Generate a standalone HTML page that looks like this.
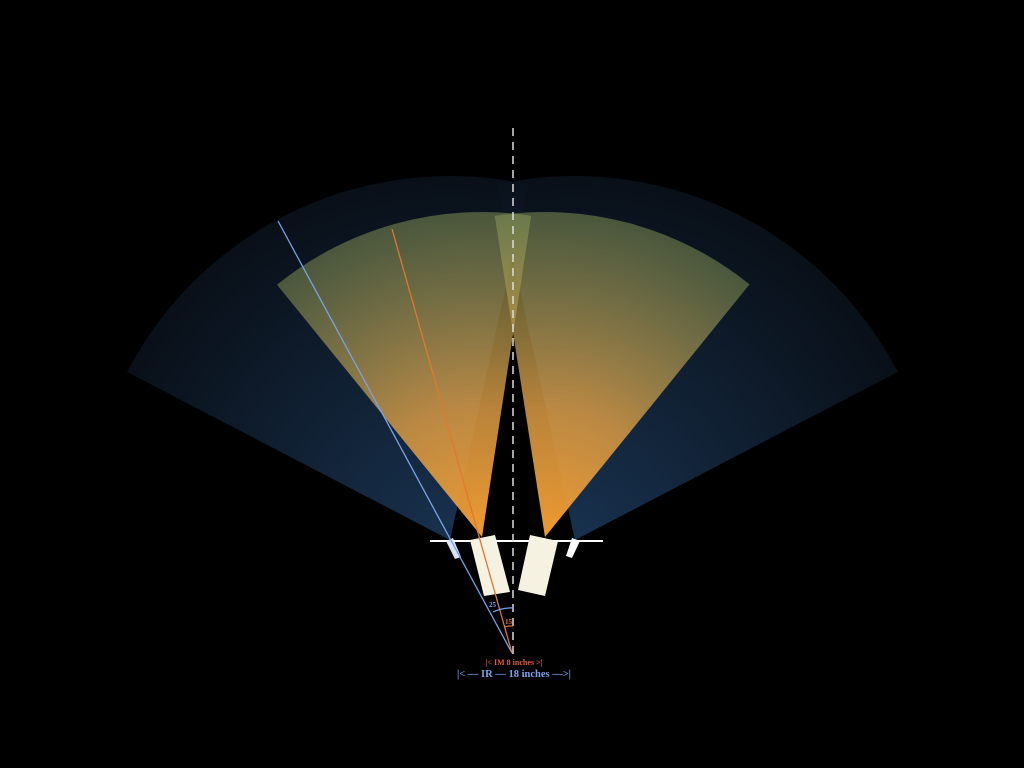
<!DOCTYPE html>
<html><head><meta charset="utf-8"><style>
html,body{margin:0;padding:0;background:#000;width:1024px;height:768px;overflow:hidden}
svg{display:block}
text{font-family:"Liberation Serif",serif;font-weight:bold}
</style></head><body>
<svg width="1024" height="768" viewBox="0 0 1024 768">
<defs>
<radialGradient id="gbL" cx="450" cy="540" r="364" gradientUnits="userSpaceOnUse">
<stop offset="0" stop-color="#1c3a5c"/><stop offset="1" stop-color="#0a121c"/></radialGradient>
<radialGradient id="gbR" cx="575" cy="540" r="364" gradientUnits="userSpaceOnUse">
<stop offset="0" stop-color="#1c3a5c"/><stop offset="1" stop-color="#0a121c"/></radialGradient>
<radialGradient id="goL" cx="482" cy="537" r="325" gradientUnits="userSpaceOnUse">
<stop offset="0" stop-color="#f09a30" stop-opacity="1"/><stop offset="0.4" stop-color="#d89a45" stop-opacity="0.85"/><stop offset="1" stop-color="#8a9a5a" stop-opacity="0.5"/></radialGradient>
<radialGradient id="goR" cx="545" cy="537" r="325" gradientUnits="userSpaceOnUse">
<stop offset="0" stop-color="#f09a30" stop-opacity="1"/><stop offset="0.4" stop-color="#d89a45" stop-opacity="0.85"/><stop offset="1" stop-color="#8a9a5a" stop-opacity="0.5"/></radialGradient>
</defs>
<g id="fov"></g>
<line x1="430" y1="541" x2="603" y2="541" stroke="#fff" stroke-width="2"/>
<polygon points="470,540 495,535 510,592 484,596" fill="#f5f2e2"/>
<polygon points="530,535 558,541 545,596 518,590" fill="#f5f2e2"/>
<polygon points="446,541 453,538 461,557 455,559" fill="#dde4f5"/>
<polygon points="572,538 580,541 572,558 566,556" fill="#fff"/>
<line x1="513" y1="128" x2="513" y2="655" stroke="#ddd" stroke-width="1.5" stroke-dasharray="8,6"/>
<line x1="512" y1="653" x2="278" y2="221" stroke="#7aa0e8" stroke-width="1.3"/>
<line x1="512" y1="653" x2="392" y2="229" stroke="#e07830" stroke-width="1.3"/>
<path d="M493,612 A43,43 0 0 1 514,608" fill="none" stroke="#7aa0e8" stroke-width="1.2"/>
<path d="M504,627 A26,26 0 0 1 513,626" fill="none" stroke="#e07830" stroke-width="1.2"/>
<text x="489" y="607" font-size="7" fill="#7aa0e8">25</text>
<text x="505" y="624" font-size="7" fill="#e07830">15</text>
<text x="514" y="665" font-size="8" fill="#e05a3a" text-anchor="middle">|&lt; IM 8 inches &gt;|</text>
<text x="514" y="677" font-size="10.5" fill="#7aa0e8" text-anchor="middle">|&lt; — IR — 18 inches —&gt;|</text>
</svg>
<script>
const sensors = ['ir-left','ir-right','us-left','us-right'];
const apexX = [450,575,482,545];
const apexY = [540,540,537,537];
const radius = [364,364,325,325];
const startDeg = [152.5,102.4,129.1,98.9];
const endDeg = [77.6,27.5,81.3,51.0];
const fills = ['url(#gbL)','url(#gbR)','url(#goL)','url(#goR)'];
const g = document.getElementById('fov');
const ns = 'http://www.w3.org/2000/svg';
function pt(i,a){const r=a*Math.PI/180;return [apexX[i]+radius[i]*Math.cos(r),apexY[i]-radius[i]*Math.sin(r)];}
for(let i=0;i<sensors.length;i++){
  const a0=startDeg[i],a1=endDeg[i];
  const p0=pt(i,a0),p1=pt(i,a1);
  const span=Math.abs(a1-a0);
  const sweep=a1<a0?1:0;
  const d=`M${apexX[i]},${apexY[i]} L${p0[0]},${p0[1]} A${radius[i]},${radius[i]} 0 ${span>180?1:0} ${sweep} ${p1[0]},${p1[1]} Z`;
  const p=document.createElementNS(ns,'path');
  p.setAttribute('d',d);p.setAttribute('fill',fills[i]);
  if(i<2)p.setAttribute('fill-opacity','0.85');
  
  
  g.appendChild(p);
}
</script>
</body></html>
